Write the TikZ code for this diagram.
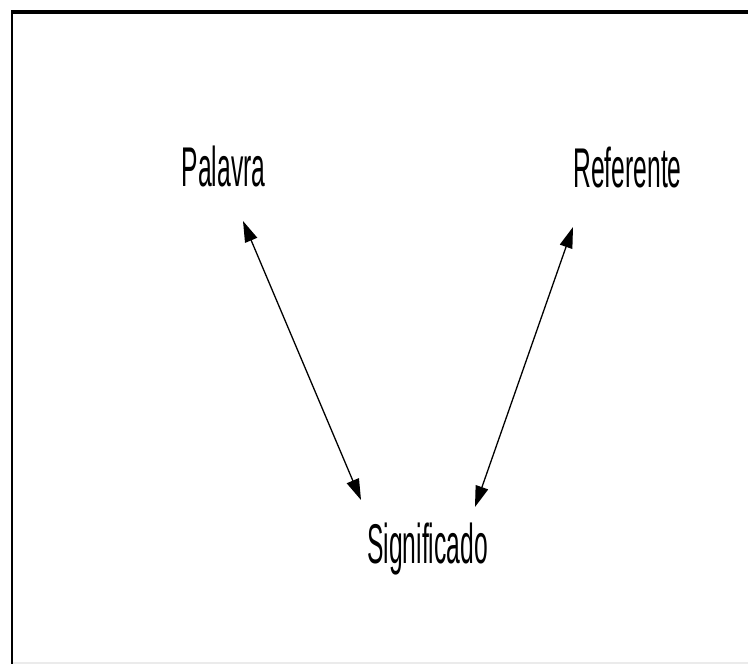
\documentclass[tikz,border=0pt]{standalone}
\usepackage{fontspec}
\setmainfont{Liberation Sans}
\usepackage{xcolor}
\usetikzlibrary{arrows.meta}
\definecolor{framegray}{RGB}{235,235,235}

\begin{document}
\begin{tikzpicture}[x=1pt, y=-1pt,
    word/.style={inner sep=0pt, anchor=base, xscale=0.44, font=\fontsize{56}{62}\selectfont},
    link/.style={line width=1.3pt, {Triangle[length=21pt,width=13pt]}-{Triangle[length=21pt,width=13pt]}}]
            \useasboundingbox (0,0) rectangle (748,664);
            % Frame
            \fill[black] (11,10) rectangle (748,14);
            \fill[black] (11,10) rectangle (13,664);
            \draw[framegray, line width=1.5pt] (13,663) -- (748,663);

            % Words
            \node[word] (palavra) at (223.5,186) {Palavra};
            \node[word] (referente) at (627.5,187) {Referente};
            \node[word] (significado) at (427.5,563) {Significado};

            % Arrow ends
            \coordinate (pal-end) at (243,221);
            \coordinate (ref-end) at (573,227);
            \coordinate (sig-left) at (361,500);
            \coordinate (sig-right) at (475,507);

            % Arrows
            \draw[link] (pal-end) -- (sig-left);
            \draw[link] (ref-end) -- (sig-right);
        \end{tikzpicture}
\end{document}
